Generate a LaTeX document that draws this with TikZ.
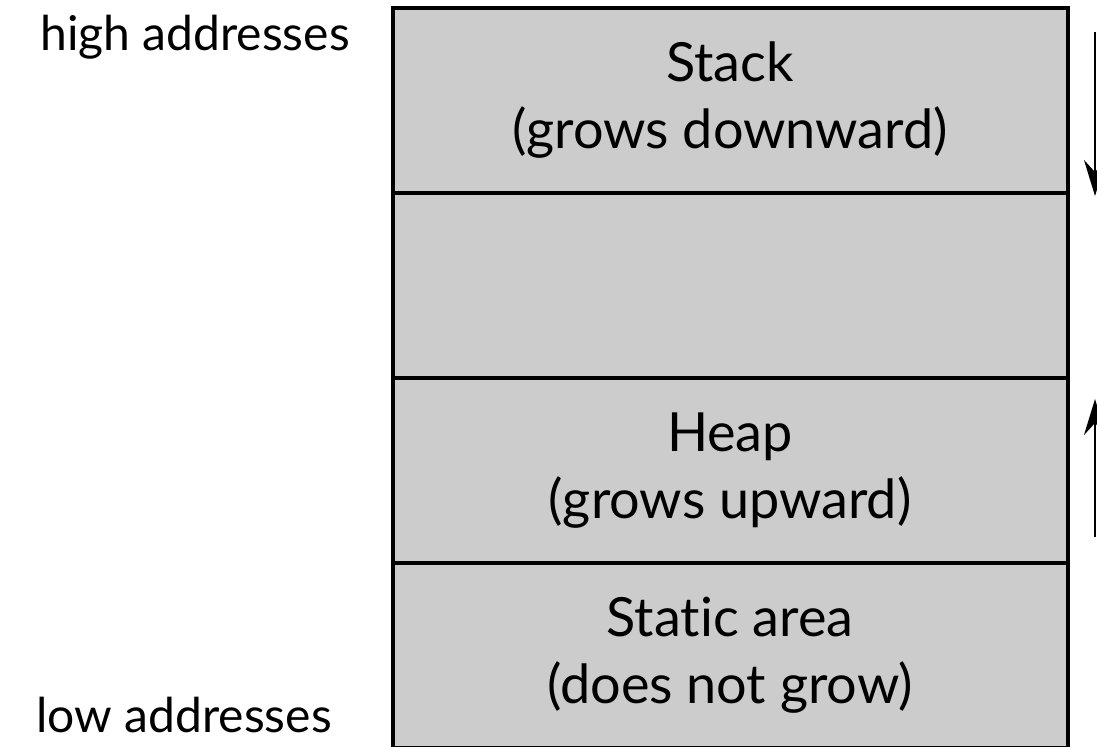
\documentclass[tikz,border=0pt]{standalone}
\usepackage{fontspec}
\setmainfont{Lato}[Ligatures=NoCommon]
\usetikzlibrary{positioning,arrows.meta}
\begin{document}
\begin{tikzpicture}
  [x=0.5pt,y=-0.5pt,
   every node/.style={font=\fontsize{24}{33}\selectfont},
   cell/.style={draw,line width=2pt,fill=black!20,outer sep=0pt,inner sep=0pt,
     minimum width=337.5pt,minimum height=92.5pt,align=center,
     font=\fontsize{27}{33.5}\selectfont},
   growarrow/.style={line width=1pt,-{Stealth[length=18pt,width=11pt,inset=6pt]}}]
  \useasboundingbox (0,0) rectangle (1097,746);
  \clip (0,0) rectangle (1097,746);
  \node[cell] (stack) at (730,100.5) {Stack\\(grows downward)};
  \node[cell,below=0pt of stack] (free) {};
  \node[cell,below=0pt of free] (heap) {Heap\\(grows upward)};
  \node[cell,below=0pt of heap] (static) {Static area\\(does not grow)};

  \node[anchor=base west,inner sep=0pt] (hi) at (40,50) {high addresses};
  \node[anchor=base west,inner sep=0pt] (lo) at (36,732) {low addresses};

  \coordinate (s1) at (1095,32);
  \coordinate (s2) at (1095,196);
  \coordinate (h1) at (1095,537);
  \coordinate (h2) at (1095,399);
  \draw[growarrow] (s1) -- (s2);
  \draw[growarrow] (h1) -- (h2);
\end{tikzpicture}
\end{document}
